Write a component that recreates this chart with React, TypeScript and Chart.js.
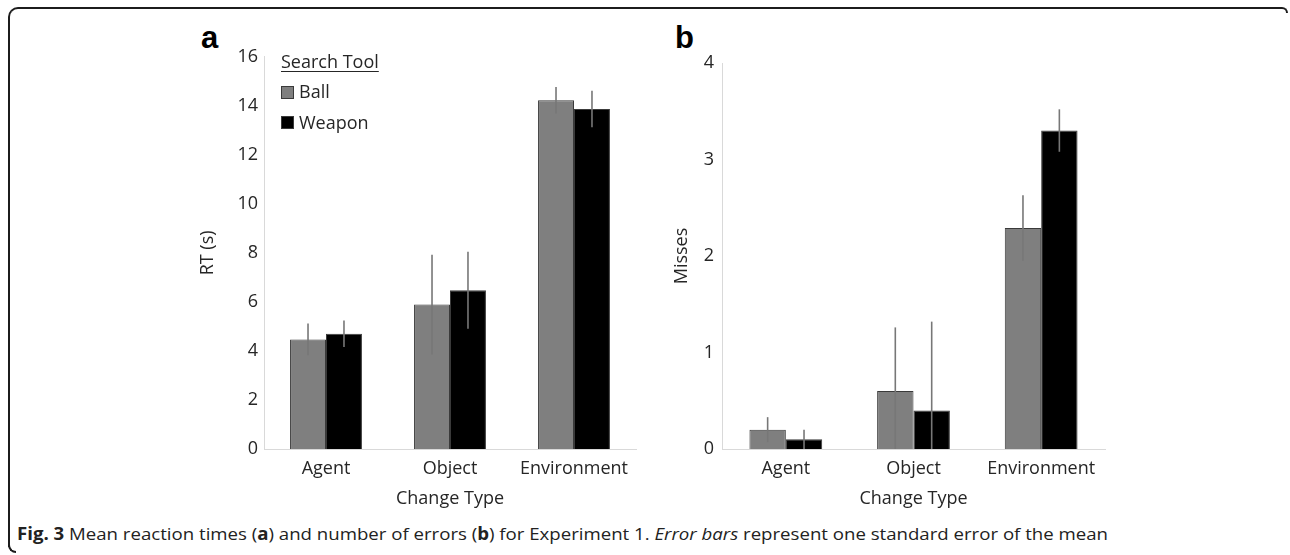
import React, { useEffect, useLayoutEffect, useRef } from 'react';
import { Chart, registerables } from 'chart.js';

Chart.register(...registerables);

// ---------- data ----------
const categories = ['Agent', 'Object', 'Environment'];
const seriesNames = ['Ball', 'Weapon'];
const legendTitle = 'Search Tool';
const seriesColors = ['#7f7f7f', '#000000'];

const ballRT = [4.47, 5.89, 14.23];
const weaponRT = [4.7, 6.48, 13.87];
const ballRTErr = [0.65, 2.03, 0.54];
const weaponRTErr = [0.54, 1.57, 0.74];

const ballMisses = [0.2, 0.6, 2.29];
const weaponMisses = [0.1, 0.4, 3.3];
const ballMissesErr = [0.13, 0.66, 0.34];
const weaponMissesErr = [0.1, 0.92, 0.22];

const rtAxis = [0, 16, 2]; // min, max, step
const missesAxis = [0, 4, 1];

const xTitle = 'Change Type';
const rtTitle = 'RT (s)';
const missesTitle = 'Misses';

const FONT = "'Open Sans', sans-serif";
const TEXT = '#262626';

function makeErrorPlugin(errors: number[][]) {
  return {
    id: 'errorBars',
    afterDatasetsDraw(chart: any) {
      const { ctx } = chart;
      const y = chart.scales.y;
      ctx.save();
      ctx.strokeStyle = '#777777';
      ctx.lineWidth = 1.6;
      chart.data.datasets.forEach((ds: any, i: number) => {
        const meta = chart.getDatasetMeta(i);
        meta.data.forEach((bar: any, j: number) => {
          const v = ds.data[j] as number;
          const e = errors[i][j];
          const top = y.getPixelForValue(v + e);
          const bot = y.getPixelForValue(Math.max(y.min, v - e));
          ctx.beginPath();
          ctx.moveTo(bar.x, top);
          ctx.lineTo(bar.x, bot);
          ctx.stroke();
        });
      });
      ctx.restore();
    },
  };
}

type PanelProps = {
  left: number;
  top: number;
  width: number;
  height: number;
  pad: { left: number; top: number; right: number; bottom: number };
  yAxisWidth: number;
  xAxisHeight: number;
  yTitle: string;
  yTitlePad: number;
  tickPad: number;
  axis: number[];
  series: number[][];
  errors: number[][];
  catPct: number;
};

function Panel(p: PanelProps) {
  const ref = useRef<HTMLCanvasElement>(null);
  useEffect(() => {
    if (!ref.current) return;
    const chart = new Chart(ref.current, {
      type: 'bar',
      data: {
        labels: categories,
        datasets: p.series.map((vals, i) => ({
          label: seriesNames[i],
          data: vals,
          backgroundColor: seriesColors[i],
          borderColor: '#3a3a3a',
          borderWidth: 1,
          categoryPercentage: p.catPct,
          barPercentage: 1,
        })),
      },
      options: {
        responsive: false,
        animation: false,
        devicePixelRatio: 1,
        layout: { padding: p.pad },
        plugins: { legend: { display: false }, tooltip: { enabled: false } },
        scales: {
          x: {
            grid: { display: false, drawTicks: false },
            border: { display: true, color: '#d9d9d9', width: 1 },
            ticks: { color: TEXT, font: { family: FONT, size: 18 }, padding: 9, maxRotation: 0 },
            title: {
              display: true,
              text: xTitle,
              color: TEXT,
              font: { family: FONT, size: 18 },
              padding: { top: 0, bottom: 10 },
            },
            afterFit: (s: any) => {
              s.height = p.xAxisHeight;
            },
          },
          y: {
            min: p.axis[0],
            max: p.axis[1],
            grid: { display: false, drawTicks: false },
            border: { display: true, color: '#d9d9d9', width: 1 },
            ticks: { stepSize: p.axis[2], color: TEXT, font: { family: FONT, size: 18 }, padding: p.tickPad },
            title: {
              display: true,
              text: p.yTitle,
              color: TEXT,
              font: { family: FONT, size: 18 },
              padding: { top: p.yTitlePad, bottom: 0 },
            },
            afterFit: (s: any) => {
              s.width = p.yAxisWidth;
            },
          },
        },
      },
      plugins: [makeErrorPlugin(p.errors)],
    } as any);
    return () => chart.destroy();
  }, []);
  return (
    <canvas
      ref={ref}
      width={p.width}
      height={p.height}
      style={{ position: 'absolute', left: p.left, top: p.top, width: p.width, height: p.height }}
    />
  );
}

function Caption() {
  const ref = useRef<HTMLSpanElement>(null);
  useLayoutEffect(() => {
    const el = ref.current;
    if (!el) return;
    el.style.transform = 'none';
    const w = el.getBoundingClientRect().width;
    el.style.transform = `scaleX(${1091 / w})`;
  }, []);
  return (
    <span
      ref={ref}
      style={{
        position: 'absolute',
        left: 17,
        top: 523,
        fontFamily: FONT,
        fontSize: 17,
        lineHeight: '22px',
        whiteSpace: 'nowrap',
        color: '#222',
        transformOrigin: 'left top',
      }}
    >
      <b>Fig. 3</b> Mean reaction times (<b>a</b>) and number of errors (<b>b</b>) for Experiment 1.{' '}
      <i>Error bars</i> represent one standard error of the mean
    </span>
  );
}

export default function App() {
  const line = '2px solid #1c1c1c';
  const legendText: React.CSSProperties = {
    position: 'absolute',
    fontFamily: FONT,
    fontSize: 18,
    lineHeight: 1,
    color: TEXT,
    whiteSpace: 'nowrap',
  };
  return (
    <div style={{ position: 'absolute', left: 0, top: 0, width: 1290, height: 555, background: '#fff', overflow: 'hidden' }}>
      {/* frame */}
      <div style={{ position: 'absolute', left: 8, top: 7, width: 1268, height: 538, borderTop: line, borderLeft: line, borderTopLeftRadius: 10 }} />
      <div style={{ position: 'absolute', left: 1270, top: 7, width: 16, height: 4, borderTop: line, borderRight: line, borderTopRightRadius: 8 }} />
      <div style={{ position: 'absolute', left: 8, top: 538, width: 6, height: 13, borderLeft: line, borderBottom: line, borderBottomLeftRadius: 8 }} />

      {/* panel letters */}
      <div style={{ position: 'absolute', left: 201, top: 22, fontFamily: "'Liberation Sans', Arial, sans-serif", fontWeight: 'bold', fontSize: 31, lineHeight: 1, color: '#000' }}>a</div>
      <div style={{ position: 'absolute', left: 675, top: 22, fontFamily: "'Liberation Sans', Arial, sans-serif", fontWeight: 'bold', fontSize: 31, lineHeight: 1, color: '#000' }}>b</div>

      <Panel
        left={180}
        top={40}
        width={470}
        height={480}
        pad={{ left: 8, top: 13, right: 14, bottom: 0 }}
        yAxisWidth={76}
        xAxisHeight={71}
        yTitle={rtTitle}
        yTitlePad={9}
        tickPad={6}
        axis={rtAxis}
        series={[ballRT, weaponRT]}
        errors={[ballRTErr, weaponRTErr]}
        catPct={0.58}
      />
      <Panel
        left={600}
        top={40}
        width={520}
        height={480}
        pad={{ left: 60, top: 23, right: 15, bottom: 0 }}
        yAxisWidth={62}
        xAxisHeight={71}
        yTitle={missesTitle}
        yTitlePad={11}
        tickPad={8}
        axis={missesAxis}
        series={[ballMisses, weaponMisses]}
        errors={[ballMissesErr, weaponMissesErr]}
        catPct={0.57}
      />

      {/* legend */}
      <div style={{ ...legendText, left: 281, top: 52, textDecoration: 'underline', textUnderlineOffset: 3 }}>{legendTitle}</div>
      {seriesNames.map((name, i) => (
        <React.Fragment key={name}>
          <div
            style={{
              position: 'absolute',
              left: 281,
              top: 86 + i * 30,
              width: 11,
              height: 11,
              background: seriesColors[i],
              border: '1px solid #3a3a3a',
            }}
          />
          <div style={{ ...legendText, left: 299, top: 82 + i * 31 }}>{name}</div>
        </React.Fragment>
      ))}

      <Caption />
    </div>
  );
}
